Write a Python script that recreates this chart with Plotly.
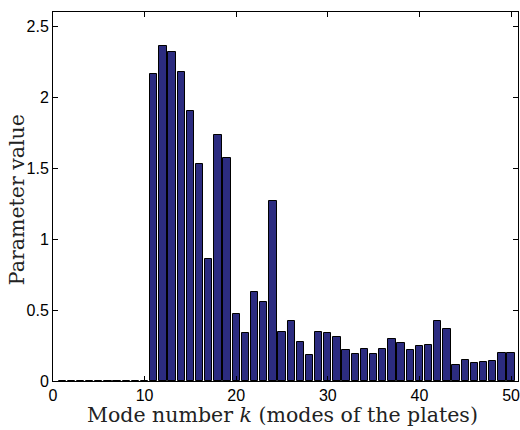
import plotly.graph_objects as go

modes = list(range(1, 51))
values = [0.0] * 10 + [
    2.16, 2.36, 2.32, 2.18, 1.90, 1.53, 0.86, 1.73, 1.57, 0.47,
    0.34, 0.63, 0.555, 1.27, 0.345, 0.42, 0.275, 0.18, 0.345, 0.335,
    0.31, 0.22, 0.19, 0.225, 0.19, 0.225, 0.295, 0.27, 0.22, 0.245,
    0.255, 0.42, 0.365, 0.11, 0.145, 0.125, 0.135, 0.14, 0.20, 0.195,
]
x_ticks = [0, 10, 20, 30, 40, 50]
y_ticks = [0, 0.5, 1, 1.5, 2, 2.5]
y_tick_text = ["0", "0.5", "1", "1.5", "2", "2.5"]

W, H = 520, 430
L, R, T, B = 53, 0, 12, 49

fig = go.Figure()
fig.add_trace(go.Bar(
    x=modes, y=values, width=0.8,
    marker=dict(color="#2c2c80", line=dict(color="black", width=1)),
    showlegend=False,
))

axis_common = dict(
    showline=True, linecolor="black", linewidth=1, mirror="ticks",
    ticks="inside", ticklen=5, tickcolor="black", tickwidth=1,
    showgrid=False, zeroline=False, ticklabeloverflow="allow",
    tickfont=dict(family="Liberation Sans, Arial, sans-serif", size=16, color="black"),
)
fig.update_xaxes(range=[0, 50.76], tickvals=x_ticks, **axis_common)
fig.update_yaxes(range=[0, 2.6], tickvals=y_ticks, ticktext=y_tick_text,
                 ticklabelstandoff=0, **axis_common)

pw = W - L - R
ph = H - T - B
fig.add_annotation(
    text="Mode number <i>k</i> (modes of the plates)",
    xref="paper", yref="paper",
    x=(283 - L) / pw, y=-(415 - (T + ph)) / ph,
    xanchor="center", yanchor="middle", showarrow=False,
    font=dict(family="DejaVu Serif, serif", size=20.5, color="#222"),
)
fig.add_annotation(
    text="Parameter value",
    xref="paper", yref="paper",
    x=(17 - L) / pw, y=1 - (200 - T) / ph,
    xanchor="center", yanchor="middle", showarrow=False, textangle=-90,
    font=dict(family="DejaVu Serif, serif", size=20.5, color="#222"),
)

fig.update_layout(
    width=W, height=H,
    margin=dict(l=L, r=R, t=T, b=B),
    paper_bgcolor="white", plot_bgcolor="white",
    bargap=0,
)
fig.write_html("out.html")
